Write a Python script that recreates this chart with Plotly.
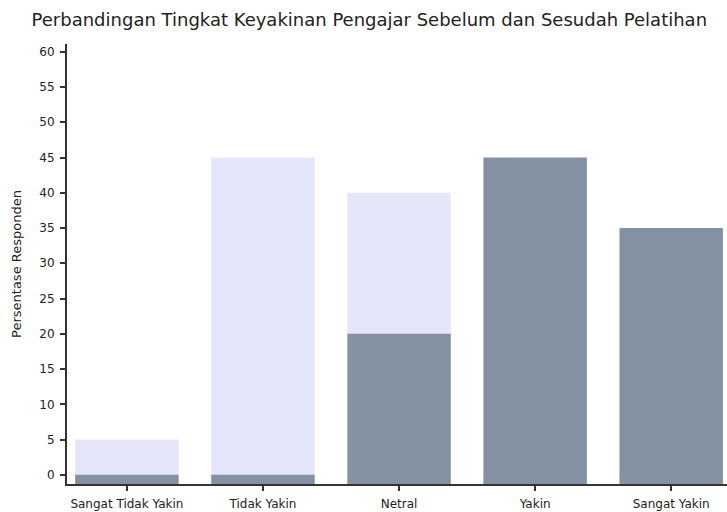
import plotly.graph_objects as go

categories = ["Sangat Tidak Yakin", "Tidak Yakin", "Netral", "Yakin", "Sangat Yakin"]
sebelum = [5, 45, 40, 0, 0]
sesudah = [0, 0, 20, 45, 35]
y_ticks = list(range(0, 61, 5))

y_min = -1.3
y_max = 61.1

fig = go.Figure()
fig.add_trace(go.Bar(
    x=categories, y=[v - y_min for v in sebelum], base=y_min,
    name="Sebelum", marker=dict(color="#E6E6FA", line=dict(width=0)),
    width=0.76,
))
fig.add_trace(go.Bar(
    x=categories, y=[v - y_min for v in sesudah], base=y_min,
    name="Sesudah", marker=dict(color="#8391A3", line=dict(width=0)),
    width=0.76,
))

font_family = "DejaVu Sans, sans-serif"
fig.update_layout(
    width=727, height=512,
    barmode="overlay",
    showlegend=False,
    plot_bgcolor="white", paper_bgcolor="white",
    margin=dict(l=67, r=0, t=44, b=28, autoexpand=False),
    title=dict(text="Perbandingan Tingkat Keyakinan Pengajar Sebelum dan Sesudah Pelatihan",
               x=0.508, xanchor="center", y=0.962, yanchor="middle",
               font=dict(family=font_family, size=18, color="#222222")),
    font=dict(family=font_family, color="#333333", size=12),
)
fig.update_xaxes(
    range=[-0.44, 4.41], showline=True, linecolor="#333333", linewidth=2,
    ticks="outside", ticklen=5, tickcolor="#333333", tickwidth=2,
    showgrid=False, tickfont=dict(size=12, color="#222222"), ticklabelstandoff=3,
)
fig.update_yaxes(
    range=[y_min, y_max], tickvals=y_ticks, showline=True, linecolor="#333333", linewidth=2,
    ticks="outside", ticklen=5, tickcolor="#333333", tickwidth=2,
    showgrid=False, zeroline=False, tickfont=dict(size=12, color="#222222"),
    ticklabelstandoff=3,
    title=dict(text="Persentase Responden", font=dict(size=13, color="#222222"), standoff=15),
)
fig.write_html("out.html", config={"displayModeBar": False},
               post_script="document.body.style.margin='0';")
